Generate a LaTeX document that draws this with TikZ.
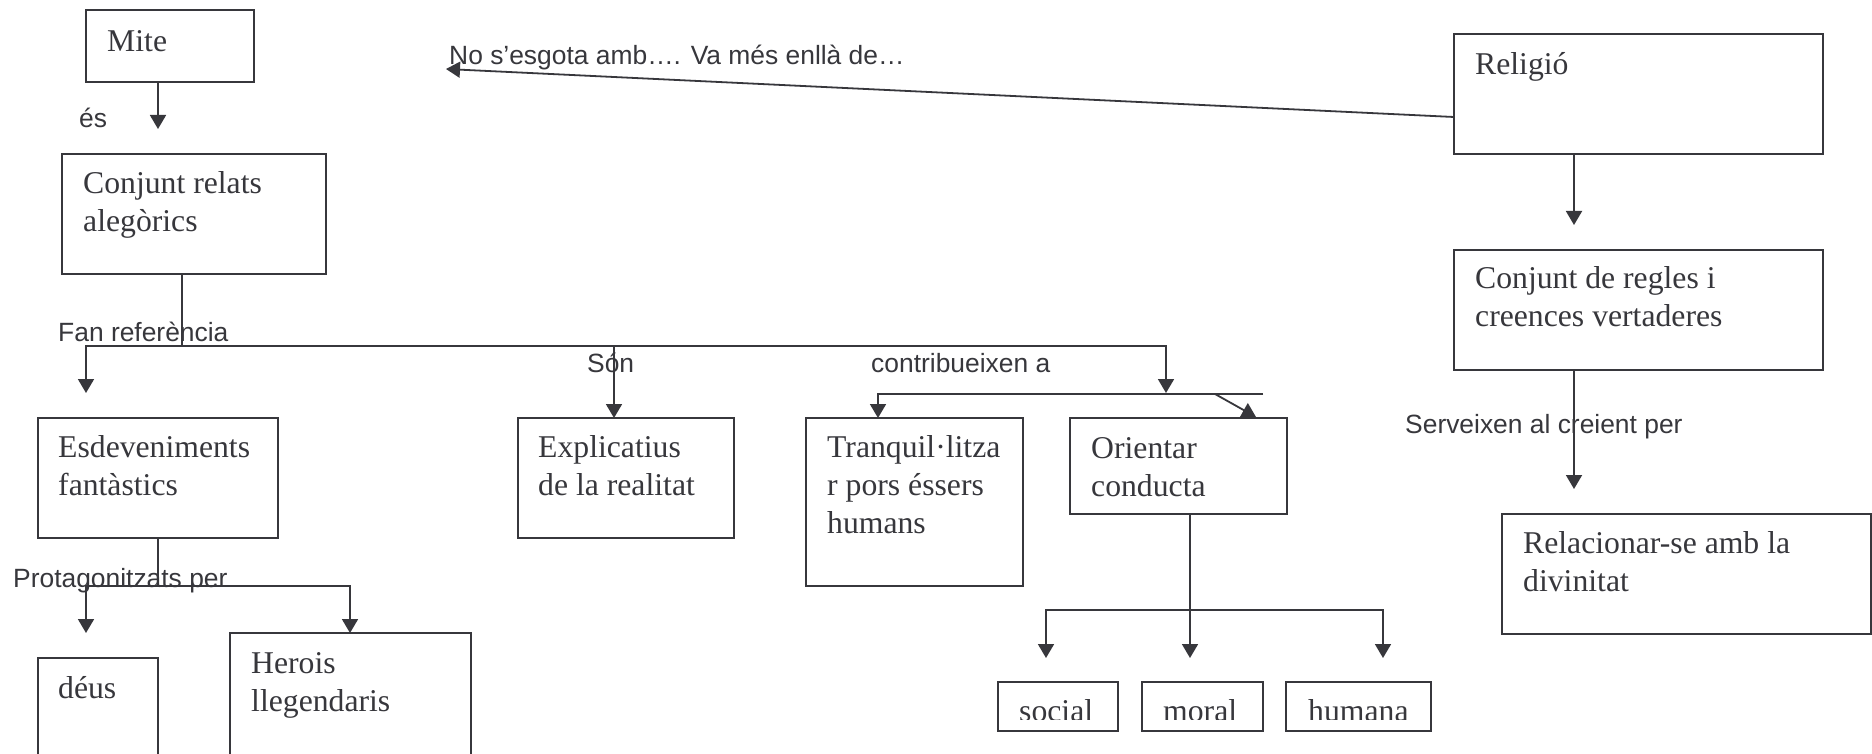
\documentclass[tikz,border=0pt]{standalone}
\usepackage{fontspec}
\setmainfont{Liberation Serif}
\newfontfamily\labelfont{Liberation Sans}
\usetikzlibrary{arrows.meta}
\definecolor{ink}{RGB}{55,55,60}
\tikzset{
  box/.style={draw=ink, line width=1.8pt, anchor=north west, inner sep=0pt, outer sep=0pt},
  boxtext/.style={anchor=base west, inner sep=0pt, align=left, text=ink, font=\fontsize{31.7pt}{38pt}\selectfont},
  lbl/.style={anchor=base west, inner sep=0pt, text=ink, font=\labelfont\fontsize{26.4pt}{30pt}\selectfont},
  conn/.style={draw=ink, line width=1.8pt},
  arr/.style={conn, -{Triangle[width=16pt,length=14pt]}},
  arrtwo/.style={conn, {Triangle[width=16pt,length=14pt]}-{Triangle[width=16pt,length=14pt]}},
}
\begin{document}
\begin{tikzpicture}[x=1pt,y=-1pt]
\clip (0,0) rectangle (1872,754);
\fill[white] (0,0) rectangle (1872,754);
% boxes
\node[box, minimum width=168pt, minimum height=72pt] (mite) at (86,10) {};
\node[box, minimum width=264pt, minimum height=120pt] (conj) at (62,154) {};
\node[box, minimum width=240pt, minimum height=120pt] (esdev) at (38,418) {};
\node[box, minimum width=216pt, minimum height=120pt] (expl) at (518,418) {};
\node[box, minimum width=217pt, minimum height=168pt] (tranq) at (806,418) {};
\node[box, minimum width=217pt, minimum height=96pt] (orient) at (1070,418) {};
\node[box, minimum width=120pt, minimum height=130pt] (deus) at (38,658) {};
\node[box, minimum width=241pt, minimum height=150pt] (herois) at (230,633) {};
\node[box, minimum width=120pt, minimum height=49pt] (social) at (998,682) {};
\node[box, minimum width=121pt, minimum height=49pt] (moral) at (1142,682) {};
\node[box, minimum width=145pt, minimum height=49pt] (humana) at (1286,682) {};
\node[box, minimum width=369pt, minimum height=120pt] (relig) at (1454,34) {};
\node[box, minimum width=369pt, minimum height=120pt] (regles) at (1454,250) {};
\node[box, minimum width=369pt, minimum height=120pt] (relac) at (1502,514) {};
% box texts (anchor at baseline of the last line)
\node[boxtext] (mitet) at (107,52) {Mite};
\node[boxtext] (conjt) at (83,232) {Conjunt relats\\alegòrics};
\node[boxtext] (esdevt) at (58,495) {Esdeveniments\\fantàstics};
\node[boxtext] (explt) at (538,495) {Explicatius\\de la realitat};
\node[boxtext] (tranqt) at (827,533) {Tranquil·litza\\r pors éssers\\humans};
\node[boxtext] (orientt) at (1091,496) {Orientar\\conducta};
\node[boxtext] (deust) at (58,698) {déus};
\node[boxtext] (heroist) at (251,711) {Herois\\llegendaris};
\node[boxtext] (religt) at (1475,75) {Religió};
\node[boxtext] (reglest) at (1475,326) {Conjunt de regles i\\creences vertaderes};
\node[boxtext] (relact) at (1523,591) {Relacionar-se amb la\\divinitat};
\begin{scope}
\clip (998,683) rectangle (1431,719);
\node[boxtext] (socialt) at (1019,721) {social};
\node[boxtext] (moralt) at (1163,721) {moral};
\node[boxtext] (humanat) at (1308,721) {humana};
\end{scope}
% coordinates
\coordinate (miteend) at (158,129);
\coordinate (j1) at (182,346);
\coordinate (hL) at (86,346);
\coordinate (hR) at (1166,346);
\coordinate (esdevin) at (86,393);
\coordinate (sonx) at (614,346);
\coordinate (c1) at (1166,393);
\coordinate (bL) at (878,394);
\coordinate (bR) at (1263,394);
\coordinate (dg) at (1215,394);
\coordinate (dgend) at (1256,417);
\coordinate (p1) at (158,586);
\coordinate (pL) at (86,586);
\coordinate (pR) at (350,586);
\coordinate (deusin) at (86,633);
\coordinate (o1) at (1190,610);
\coordinate (oL) at (1046,610);
\coordinate (oR) at (1383,610);
\coordinate (socin) at (1046,658);
\coordinate (morin) at (1190,658);
\coordinate (humin) at (1383,658);
\coordinate (r1) at (1574,225);
\coordinate (r2) at (1574,489);
\coordinate (rs) at (1454,117);
\coordinate (notip) at (446,69);
% connectors
\draw[arr] (mite.south -| miteend) -- (miteend);
\draw[conn] (conj.south -| j1) -- (j1);
\draw[arrtwo] (esdevin) -- (hL) -- (hR) -- (c1);
\draw[arr] (sonx) -- (sonx |- expl.north);
\draw[arr] (bR) -- (bL) -- (bL |- tranq.north);
\draw[arr] (dg) -- (dgend);
\draw[conn] (esdev.south -| p1) -- (p1);
\draw[arrtwo] (deusin) -- (pL) -- (pR) -- (pR |- herois.north);
\draw[arr] (orient.south -| o1) -- (morin);
\draw[arrtwo] (socin) -- (oL) -- (oR) -- (humin);
\draw[arr] (relig.south -| r1) -- (r1);
\draw[arr] (regles.south -| r2) -- (r2);
\draw[arr] (relig.west |- rs) -- (notip);
% labels
\node[lbl] (les) at (79,128) {és};
\node[lbl] (lfan) at (58,341) {Fan referència};
\node[lbl] (lson) at (587,372) {Són};
\node[lbl] (lcon) at (871,372) {contribueixen a};
\node[lbl] (lpro) at (13,587) {Protagonitzats per};
\node[lbl] (lno) at (449,65) {No s’esgota amb…. Va més enllà de…};
\node[lbl] (lser) at (1405,433) {Serveixen al creient per};
\end{tikzpicture}
\end{document}
